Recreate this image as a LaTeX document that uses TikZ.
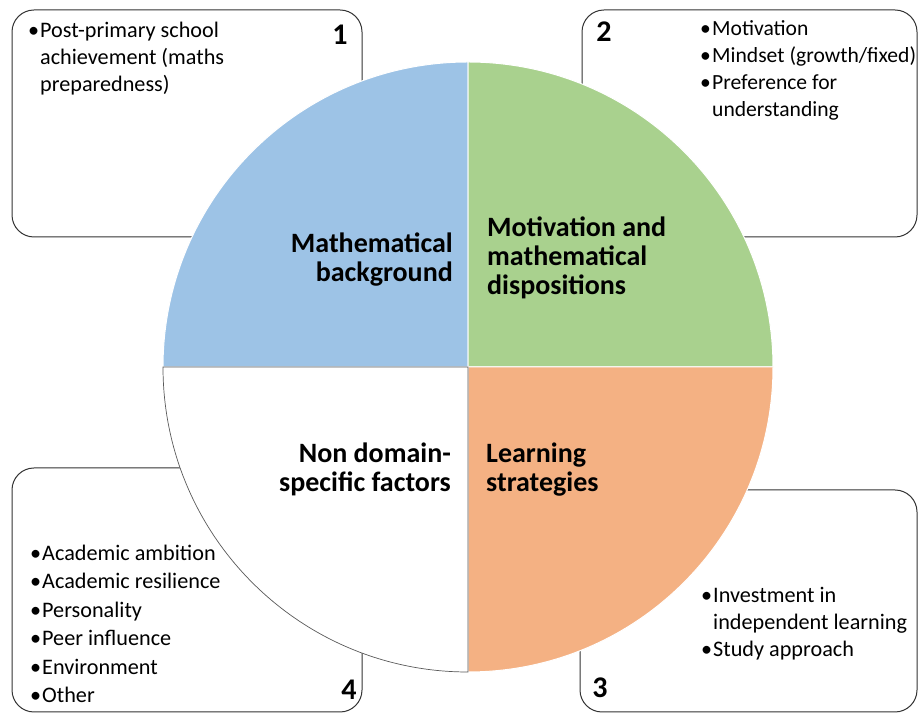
\documentclass[tikz,border=0pt]{standalone}
\usepackage{fontspec}
\setmainfont{Carlito}
\usetikzlibrary{positioning}
\definecolor{QuadBlue}{RGB}{157, 195, 230}
\definecolor{QuadGreen}{RGB}{169, 209, 142}
\definecolor{QuadOrange}{RGB}{244, 177, 131}
\newcommand{\factoritem}{\makebox[12pt][l]{\textbullet}}
\newcommand{\factorcont}{\hspace*{12pt}}

\begin{document}
\begin{tikzpicture}[x=1pt, y=1pt,
    factorbox/.style={draw=black!80, line width=1pt, rounded corners=22pt, fill=white},
    quadlabel/.style={font=\fontsize{28}{29}\selectfont\bfseries, inner sep=0pt},
    itemlist/.style={font=\fontsize{22.2}{27}\selectfont, align=left, inner sep=0pt, anchor=base west},
    boxnum/.style={font=\fontsize{30}{30}\selectfont\bfseries, inner sep=0pt, anchor=base}]
    \useasboundingbox (0,0) rectangle (919,714);

    % Corner boxes, drawn first so the circle sits on top of them
    \draw[factorbox] (12,704) rectangle (362,477);
    \draw[factorbox] (582,704) rectangle (917,477);
    \draw[factorbox] (580,224) rectangle (917,2);
    \draw[factorbox] (12,246) rectangle (362,2);

    % Circle split into four quadrants
    \coordinate (c) at (468,347);
    \def\rad{305}
    \filldraw[fill=QuadBlue, draw=white, line width=1pt] (c) -- ++(180:\rad) arc[start angle=180, end angle=90, radius=\rad] -- cycle;
    \filldraw[fill=QuadGreen, draw=white, line width=1pt] (c) -- ++(90:\rad) arc[start angle=90, end angle=0, radius=\rad] -- cycle;
    \filldraw[fill=QuadOrange, draw=white, line width=1pt] (c) -- ++(0:\rad) arc[start angle=0, end angle=-90, radius=\rad] -- cycle;
    \filldraw[fill=white, draw=black!65, line width=0.7pt] (c) -- ++(270:\rad) arc[start angle=270, end angle=180, radius=\rad] -- cycle;

    % Quadrant labels (base = last line)
    \node[quadlabel, align=right, anchor=base east] (mathbg) at (453,432) {Mathematical\\background};
    \node[quadlabel, align=left, anchor=base west] (motiv) at (487,419) {Motivation and\\mathematical\\dispositions};
    \node[quadlabel, align=right, anchor=base east] (nondomain) at (451,222) {Non domain-\\specific factors};
    \node[quadlabel, align=left, anchor=base west] (learn) at (486,222) {Learning\\strategies};

    % Box contents
    \node[itemlist] (items1) at (28,622) {\factoritem Post-primary school\\\factorcont achievement (maths\\\factorcont preparedness)};
    \node[itemlist, font=\fontsize{21.6}{27}\selectfont] (items2) at (700,597) {\factoritem Motivation\\\factoritem Mindset (growth/fixed)\\\factoritem Preference for\\\factorcont understanding};
    \node[itemlist] (items3) at (701,57) {\factoritem Investment in\\\factorcont independent learning\\\factoritem Study approach};
    \node[itemlist, font=\fontsize{22.2}{28.5}\selectfont] (items4) at (30,11) {\factoritem Academic ambition\\\factoritem Academic resilience\\\factoritem Personality\\\factoritem Peer influence\\\factoritem Environment\\\factoritem Other};

    % Box numbers
    \node[boxnum] (num1) at (340,669) {1};
    \node[boxnum] (num2) at (604,672) {2};
    \node[boxnum] (num3) at (600,16) {3};
    \node[boxnum] (num4) at (349,14) {4};
\end{tikzpicture}
\end{document}
